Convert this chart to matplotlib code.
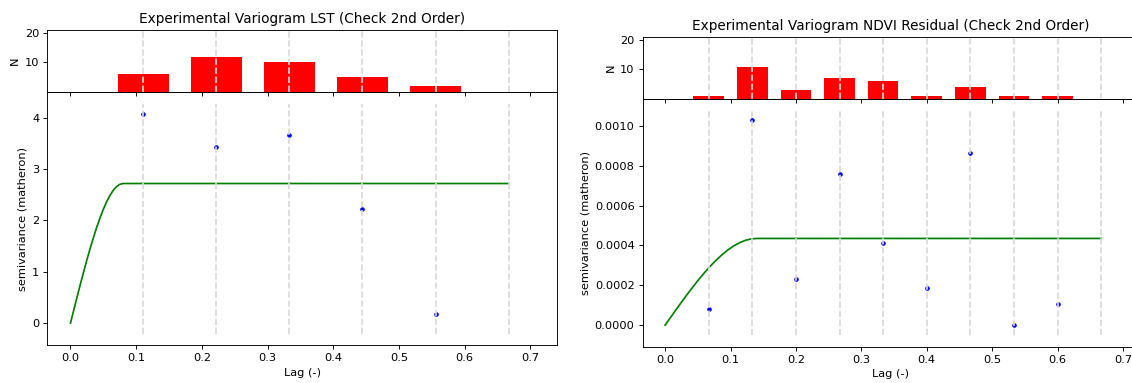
import matplotlib
matplotlib.use("Agg")
import matplotlib.pyplot as plt

# ---- data ----
# LST variogram
lst_bins = [0.1111, 0.2222, 0.3333, 0.4444, 0.5556, 0.6667]
lst_counts = [6, 12, 10, 5, 2, 0]
lst_exp = [4.07, 3.43, 3.67, 2.22, 0.17]          # last bin is empty
lst_model_x = [0.0, 0.005, 0.01, 0.015, 0.02, 0.025, 0.03, 0.035, 0.04,
               0.045, 0.05, 0.055, 0.06, 0.065, 0.07, 0.075, 0.08, 0.6667]
lst_model_y = [0.0, 0.255, 0.507, 0.756, 0.999, 1.234, 1.458, 1.671, 1.870,
               2.053, 2.218, 2.363, 2.486, 2.586, 2.659, 2.704, 2.72, 2.72]

# NDVI residual variogram
ndvi_bins = [0.0667, 0.1333, 0.2000, 0.2667, 0.3333,
             0.4000, 0.4667, 0.5333, 0.6000, 0.6667]
ndvi_counts = [1, 11, 3, 7, 6, 1, 4, 1, 1, 0]
ndvi_exp = [0.000080, 0.001028, 0.000230, 0.000760, 0.000410,
            0.000185, 0.000862, 0.000000, 0.000105]
ndvi_model_x = [0.0, 0.00875, 0.0175, 0.02625, 0.035, 0.04375, 0.0525,
                0.06125, 0.07, 0.07875, 0.0875, 0.09625, 0.105, 0.11375,
                0.1225, 0.13125, 0.14, 0.6667]
ndvi_model_y = [0.0, 0.4073e-4, 0.8114e-4, 1.2091e-4, 1.5973e-4, 1.9727e-4,
                2.3322e-4, 2.6726e-4, 2.9906e-4, 3.2832e-4, 3.5471e-4,
                3.7791e-4, 3.9762e-4, 4.1349e-4, 4.2523e-4, 4.3250e-4,
                4.35e-4, 4.35e-4]


def plot_variogram(ax_h, ax_m, bins, counts, exp, mx, my, title):
    # main panel: fitted model + experimental points
    ax_m.plot(mx, my, "-g")
    ax_m.plot(bins[:len(exp)], exp, ".b")
    ax_m.vlines(bins, *ax_m.get_ybound(), colors=(.85, .85, .85),
                linestyles="dashed")
    ax_m.set_xlabel("Lag (-)")
    ax_m.set_ylabel("semivariance (matheron)")

    # histogram of pair counts
    w = bins[1] - bins[0]
    ax_h.bar(bins, counts, width=0.7 * w, align="center", color="red")
    ax_h.set_ylim(0, 21)
    ax_h.vlines(bins, 0, 21, colors=(.85, .85, .85), linestyles="dashed")
    ax_h.set_yticks([10, 20])
    ax_h.set_ylabel("N")
    ax_h.tick_params(labelbottom=False)
    ax_h.set_title(title)


# the reference looks like a default-style figure rendered at ~82 dpi
dpi = 82
fig = plt.figure(figsize=(1132 / dpi, 383 / dpi), dpi=dpi)

ax1m = fig.add_axes([0.0418, 0.0992, 0.4505, 0.6598])
ax1h = fig.add_axes([0.0418, 0.7590, 0.4505, 0.1635], sharex=ax1m)
ax2m = fig.add_axes([0.5676, 0.0948, 0.4386, 0.6475])
ax2h = fig.add_axes([0.5676, 0.7423, 0.4386, 0.1603], sharex=ax2m)

plot_variogram(ax1h, ax1m, lst_bins, lst_counts, lst_exp,
               lst_model_x, lst_model_y,
               "Experimental Variogram LST (Check 2nd Order)")
plot_variogram(ax2h, ax2m, ndvi_bins, ndvi_counts, ndvi_exp,
               ndvi_model_x, ndvi_model_y,
               "Experimental Variogram NDVI Residual (Check 2nd Order)")

fig.savefig("out.png", dpi=dpi)
plt.close(fig)
